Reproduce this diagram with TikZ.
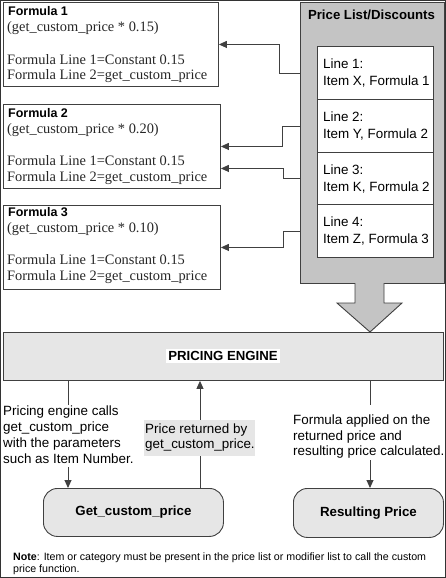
\documentclass[tikz,border=0pt]{standalone}
\usepackage{fontspec}
\setmainfont{Liberation Serif}
\setsansfont{Liberation Sans}
\usetikzlibrary{arrows.meta,calc}
\definecolor{edge}{HTML}{404040}
\definecolor{plgray}{HTML}{C4C4C4}
\definecolor{lgray}{HTML}{E6E6E6}
\begin{document}
\begin{tikzpicture}[x=1pt,y=-1pt,
  box/.style={draw=edge,line width=0.9pt,inner sep=0pt,anchor=north west},
  rbox/.style={box,rounded corners=14pt,fill=lgray,font=\sffamily\bfseries\fontsize{13.3}{15}\selectfont},
  ftxt/.style={anchor=base west,inner sep=0pt,text=black!85,font=\fontsize{14.4}{16}\selectfont},
  fhead/.style={anchor=base west,inner sep=0pt,font=\sffamily\bfseries\fontsize{12.5}{14}\selectfont},
  stxt/.style={anchor=base west,inner sep=0pt,font=\sffamily\fontsize{13.4}{15}\selectfont},
  ntxt/.style={anchor=base west,inner sep=0pt,font=\sffamily\fontsize{10.65}{12}\selectfont},
  conn/.style={draw=edge,line width=0.9pt},
  arr/.style={conn,-{Triangle[length=8pt,width=7pt]}},
]
\useasboundingbox (0,0) rectangle (446,578);
\draw[line width=1pt,draw=black!80] (0.5,0.5) rectangle (445.5,577.5);

% formula boxes
\node[box,minimum width=215pt,minimum height=84pt] (F1) at (3,2) {};
\node[box,minimum width=217pt,minimum height=84pt] (F2) at (3,104) {};
\node[box,minimum width=217pt,minimum height=84pt] (F3) at (3,205) {};

\node[fhead] (F1h) at (8,16) {Formula 1};
\node[ftxt] (F1a) at (7,31.5) {(get\_custom\_price * 0.15)};
\node[ftxt] (F1b) at (7,64) {Formula Line 1=Constant 0.15};
\node[ftxt] (F1c) at (7,80) {Formula Line 2=get\_custom\_price};

\node[fhead] (F2h) at (8,117.5) {Formula 2};
\node[ftxt] (F2a) at (7,133) {(get\_custom\_price * 0.20)};
\node[ftxt] (F2b) at (7,165.7) {Formula Line 1=Constant 0.15};
\node[ftxt] (F2c) at (7,181.7) {Formula Line 2=get\_custom\_price};

\node[fhead] (F3h) at (8,216.7) {Formula 3};
\node[ftxt] (F3a) at (7,232) {(get\_custom\_price * 0.10)};
\node[ftxt] (F3b) at (7,264) {Formula Line 1=Constant 0.15};
\node[ftxt] (F3c) at (7,280) {Formula Line 2=get\_custom\_price};

% price list
\node[box,fill=plgray,minimum width=143.5pt,minimum height=281pt] (PL) at (300,2) {};
\node[anchor=base,inner sep=0pt,font=\sffamily\bfseries\fontsize{13.2}{15}\selectfont] (PLt) at (371.5,19.5) {Price List/Discounts};
\node[box,fill=white,minimum width=116pt,minimum height=53pt] (L1) at (317,46) {};
\node[box,fill=white,minimum width=116pt,minimum height=53pt] (L2) at (317,99) {};
\node[box,fill=white,minimum width=116pt,minimum height=52pt] (L3) at (317,152) {};
\node[box,fill=white,minimum width=116pt,minimum height=52.5pt] (L4) at (317,204.3) {};
\node[stxt] (L1a) at (323,68) {Line 1:};
\node[stxt] (L1b) at (323,85.7) {Item X, Formula 1};
\node[stxt] (L2a) at (323,121.7) {Line 2:};
\node[stxt] (L2b) at (323,138.5) {Item Y, Formula 2};
\node[stxt] (L3a) at (323,174.3) {Line 3:};
\node[stxt] (L3b) at (323,191) {Item K, Formula 2};
\node[stxt] (L4a) at (323,226.7) {Line 4:};
\node[stxt] (L4b) at (323,243) {Item Z, Formula 3};

\draw[arr] (PL.west |- L1) -- ++(-21,0) |- (F1.east);
\draw[arr] (PL.west |- L2) -- ++(-18,0) |- (F2.east);
\draw[arr] (PL.west |- L3) -- ++(-17,0) |- ([yshift=-22pt]F2.east);
\draw[arr] (PL.west |- L4) -- ++(-17,0) |- (F3.east);

% block arrow
\draw[draw=edge,fill=plgray,line width=0.9pt] (355,283) -- (355,303) -- (337,303) -- (370,332) -- (402,303) -- (384,303) -- (384,283);

% pricing engine
\node[box,fill=lgray,minimum width=440pt,minimum height=48pt] (E) at (3,332) {};
\node[anchor=base,fill=white,inner xsep=2pt,inner ysep=2pt,font=\sffamily\bfseries\fontsize{13.2}{15}\selectfont] (Et) at (223,360.7) {PRICING ENGINE};

% bottom boxes
\node[rbox,minimum width=180pt,minimum height=48pt] (G) at (43,488) {Get\_custom\_price};
\node[rbox,minimum width=150pt,minimum height=49pt] (R) at (293,488) {Resulting Price};

% left text + connectors
\coordinate (T1top) at (68,405);
\coordinate (T1bot) at (68,467);
\draw[conn] (E.south -| T1top) -- (T1top);
\draw[arr] (T1bot) -- (G.north -| T1bot);
\node[stxt] (T1a) at (3,415.7) {Pricing engine calls};
\node[stxt] (T1b) at (3,431.5) {get\_custom\_price};
\node[stxt] (T1c) at (3,447.5) {with the parameters};
\node[stxt] (T1d) at (3,463.3) {such as Item Number.};

% middle return arrow + label
\coordinate (M) at (200,420);
\draw[arr] (G.north -| M) -- (E.south -| M);
\node[box,draw=none,fill=lgray,minimum width=111pt,minimum height=36.7pt] (PR) at (144,419.3) {};
\node[stxt] (PRa) at (145,433) {Price returned by};
\node[stxt] (PRb) at (145,448.3) {get\_custom\_price.};

% right text + connectors
\coordinate (T3top) at (370,405);
\coordinate (T3bot) at (370,460);
\draw[conn] (E.south -| T3top) -- (T3top);
\draw[arr] (T3bot) -- (R.north -| T3bot);
\node[stxt] (T3a) at (293,424.3) {Formula applied on the};
\node[stxt] (T3b) at (293,440) {returned price and};
\node[stxt] (T3c) at (293,455.8) {resulting price calculated.};

% note
\node[ntxt] (N1) at (13,560.7) {\textbf{Note}: Item or category must be present in the price list or modifier list to call the custom};
\node[ntxt] (N2) at (13,572.5) {price function.};
\end{tikzpicture}
\end{document}
